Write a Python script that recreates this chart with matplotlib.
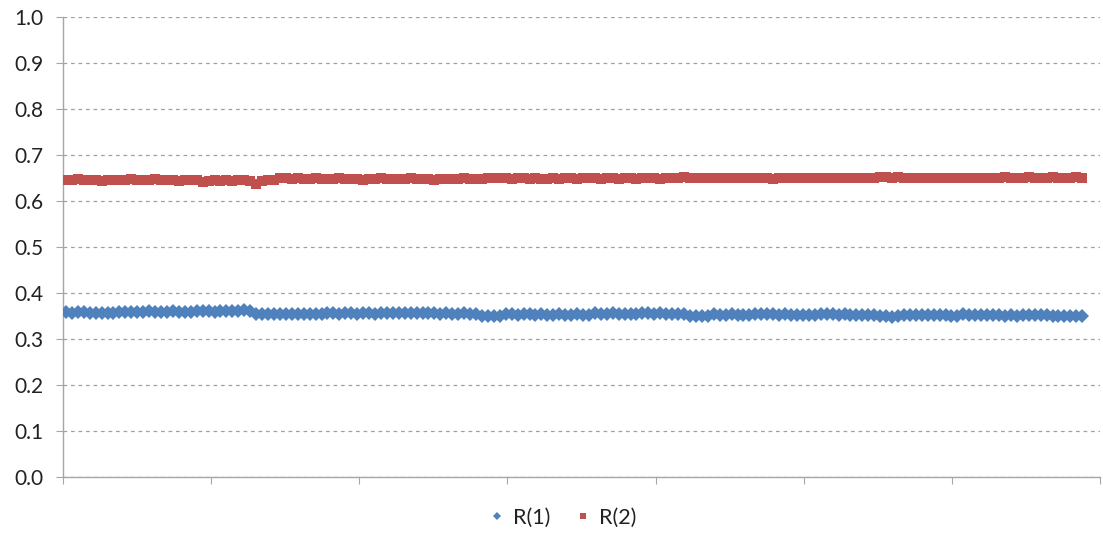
import numpy as np
import matplotlib.pyplot as plt

# R(1) and R(2) sampled along the run
r1 = [0.358, 0.357, 0.358, 0.359, 0.357, 0.356, 0.357, 0.356, 0.357, 0.358,
      0.358, 0.359, 0.358, 0.359, 0.360, 0.359, 0.358, 0.359, 0.360, 0.359,
      0.358, 0.359, 0.360, 0.361, 0.360, 0.359, 0.360, 0.361, 0.360, 0.361,
      0.362, 0.361,
      0.355, 0.355, 0.354, 0.355, 0.355, 0.354, 0.355, 0.355, 0.354, 0.355, 0.355, 0.354,
      0.356, 0.356, 0.355, 0.356, 0.356, 0.355, 0.356, 0.356, 0.355,
      0.357, 0.356, 0.356, 0.357, 0.356, 0.356, 0.357, 0.356, 0.356,
      0.356, 0.355, 0.356, 0.355, 0.355, 0.356, 0.355, 0.354,
      0.351, 0.351, 0.350, 0.351,
      0.354, 0.354, 0.353, 0.354, 0.354, 0.353, 0.354, 0.353, 0.353, 0.354,
      0.353, 0.353, 0.354, 0.353, 0.353,
      0.356, 0.355, 0.355, 0.356, 0.355, 0.355, 0.355, 0.354,
      0.356, 0.356, 0.355, 0.356, 0.355, 0.355, 0.355, 0.354,
      0.350, 0.350, 0.349, 0.350,
      0.354, 0.353, 0.353, 0.354, 0.353, 0.353, 0.352,
      0.355, 0.354, 0.354, 0.354, 0.353, 0.354, 0.353, 0.353, 0.353, 0.352, 0.352,
      0.355, 0.354, 0.354, 0.353, 0.354, 0.353, 0.353, 0.353, 0.352, 0.352,
      0.349, 0.349, 0.348, 0.349,
      0.353, 0.353, 0.352, 0.353, 0.352, 0.352, 0.352, 0.352, 0.351, 0.351,
      0.354, 0.353, 0.353, 0.353, 0.352, 0.352, 0.352, 0.351, 0.352, 0.351,
      0.353, 0.353, 0.352, 0.352, 0.352, 0.351, 0.351, 0.351, 0.351, 0.350, 0.350]

r2 = [0.646, 0.645, 0.647, 0.646, 0.645, 0.646, 0.644, 0.645, 0.646, 0.645,
      0.646, 0.647, 0.645, 0.646, 0.645, 0.647, 0.646, 0.645, 0.646, 0.644,
      0.645, 0.646, 0.645,
      0.641, 0.644, 0.645, 0.643, 0.645, 0.644, 0.646, 0.645, 0.643, 0.638,
      0.644, 0.646, 0.645,
      0.649, 0.650, 0.648, 0.649, 0.648, 0.647, 0.649, 0.648, 0.647, 0.648,
      0.649, 0.648, 0.647, 0.648, 0.646, 0.648, 0.647, 0.649, 0.648, 0.647,
      0.648, 0.647, 0.649, 0.648, 0.648, 0.647, 0.646, 0.648, 0.647, 0.648,
      0.647, 0.649, 0.648, 0.647, 0.648,
      0.650, 0.651, 0.649, 0.650, 0.648, 0.649, 0.650, 0.648, 0.649, 0.648,
      0.647, 0.649, 0.648, 0.649, 0.650, 0.648, 0.649, 0.650, 0.649, 0.648,
      0.650, 0.649, 0.648, 0.650, 0.649, 0.648, 0.649, 0.650, 0.649, 0.648,
      0.651, 0.650, 0.651, 0.652, 0.651, 0.650, 0.649, 0.650, 0.651, 0.650,
      0.649, 0.650, 0.649, 0.650, 0.651, 0.649, 0.650, 0.649, 0.648, 0.650,
      0.649, 0.650, 0.651, 0.649, 0.650, 0.649, 0.650, 0.649, 0.650, 0.651,
      0.650, 0.651, 0.650, 0.649, 0.650, 0.651, 0.653, 0.652, 0.651, 0.652,
      0.651, 0.650, 0.651, 0.650, 0.649, 0.650, 0.651, 0.650, 0.649, 0.650,
      0.651, 0.650, 0.649, 0.650, 0.651, 0.650, 0.651, 0.652, 0.651, 0.650,
      0.651, 0.652, 0.651, 0.650, 0.651, 0.652, 0.651, 0.650, 0.651, 0.652, 0.651]

y_ticks = [0.0, 0.1, 0.2, 0.3, 0.4, 0.5, 0.6, 0.7, 0.8, 0.9, 1.0]
x_ticks = [0, 100, 200, 300, 400, 500, 600, 700]

# samples run from step 2 to step 688
x1 = np.linspace(2, 688, len(r1))
x2 = np.linspace(2, 688, len(r2))

plt.rcParams['font.family'] = ['Lato', 'DejaVu Sans']

fig = plt.figure(figsize=(11.03, 5.35), dpi=100)
ax = fig.add_axes([0.0571, 0.1084, 0.9402, 0.8598])

ax.plot(x1, r1, 'D', color='#4F81BD', ms=6.8, mew=0, label='R(1)', zorder=3)
ax.plot(x2, r2, 's', color='#C0504D', ms=7.6, mew=0, label='R(2)', zorder=3)

ax.set_xlim(0, 700)
ax.set_ylim(0, 1.0)
ax.set_yticks(y_ticks)
ax.set_yticklabels(['%.1f' % v for v in y_ticks])
ax.set_xticks(x_ticks)
ax.set_xticklabels([])

ax.yaxis.grid(True, linestyle=(0, (3, 3)), color='#A0A0A0', linewidth=0.9)
for side in ['top', 'right']:
    ax.spines[side].set_visible(False)
for side in ['left', 'bottom']:
    ax.spines[side].set_color('#A6A6A6')
    ax.spines[side].set_linewidth(1.0)

ax.tick_params(axis='y', length=5, color='#A6A6A6', labelsize=15, labelcolor='#222222', pad=9)
ax.tick_params(axis='x', length=5, color='#A6A6A6', direction='out')

fig.legend(loc='center', bbox_to_anchor=(0.51, 0.032), ncol=2, frameon=False,
           fontsize=15.5, handletextpad=0.35, columnspacing=1.1, markerscale=0.65,
           handlelength=0.8, labelcolor='#222222')

fig.savefig('out.png', dpi=100)
